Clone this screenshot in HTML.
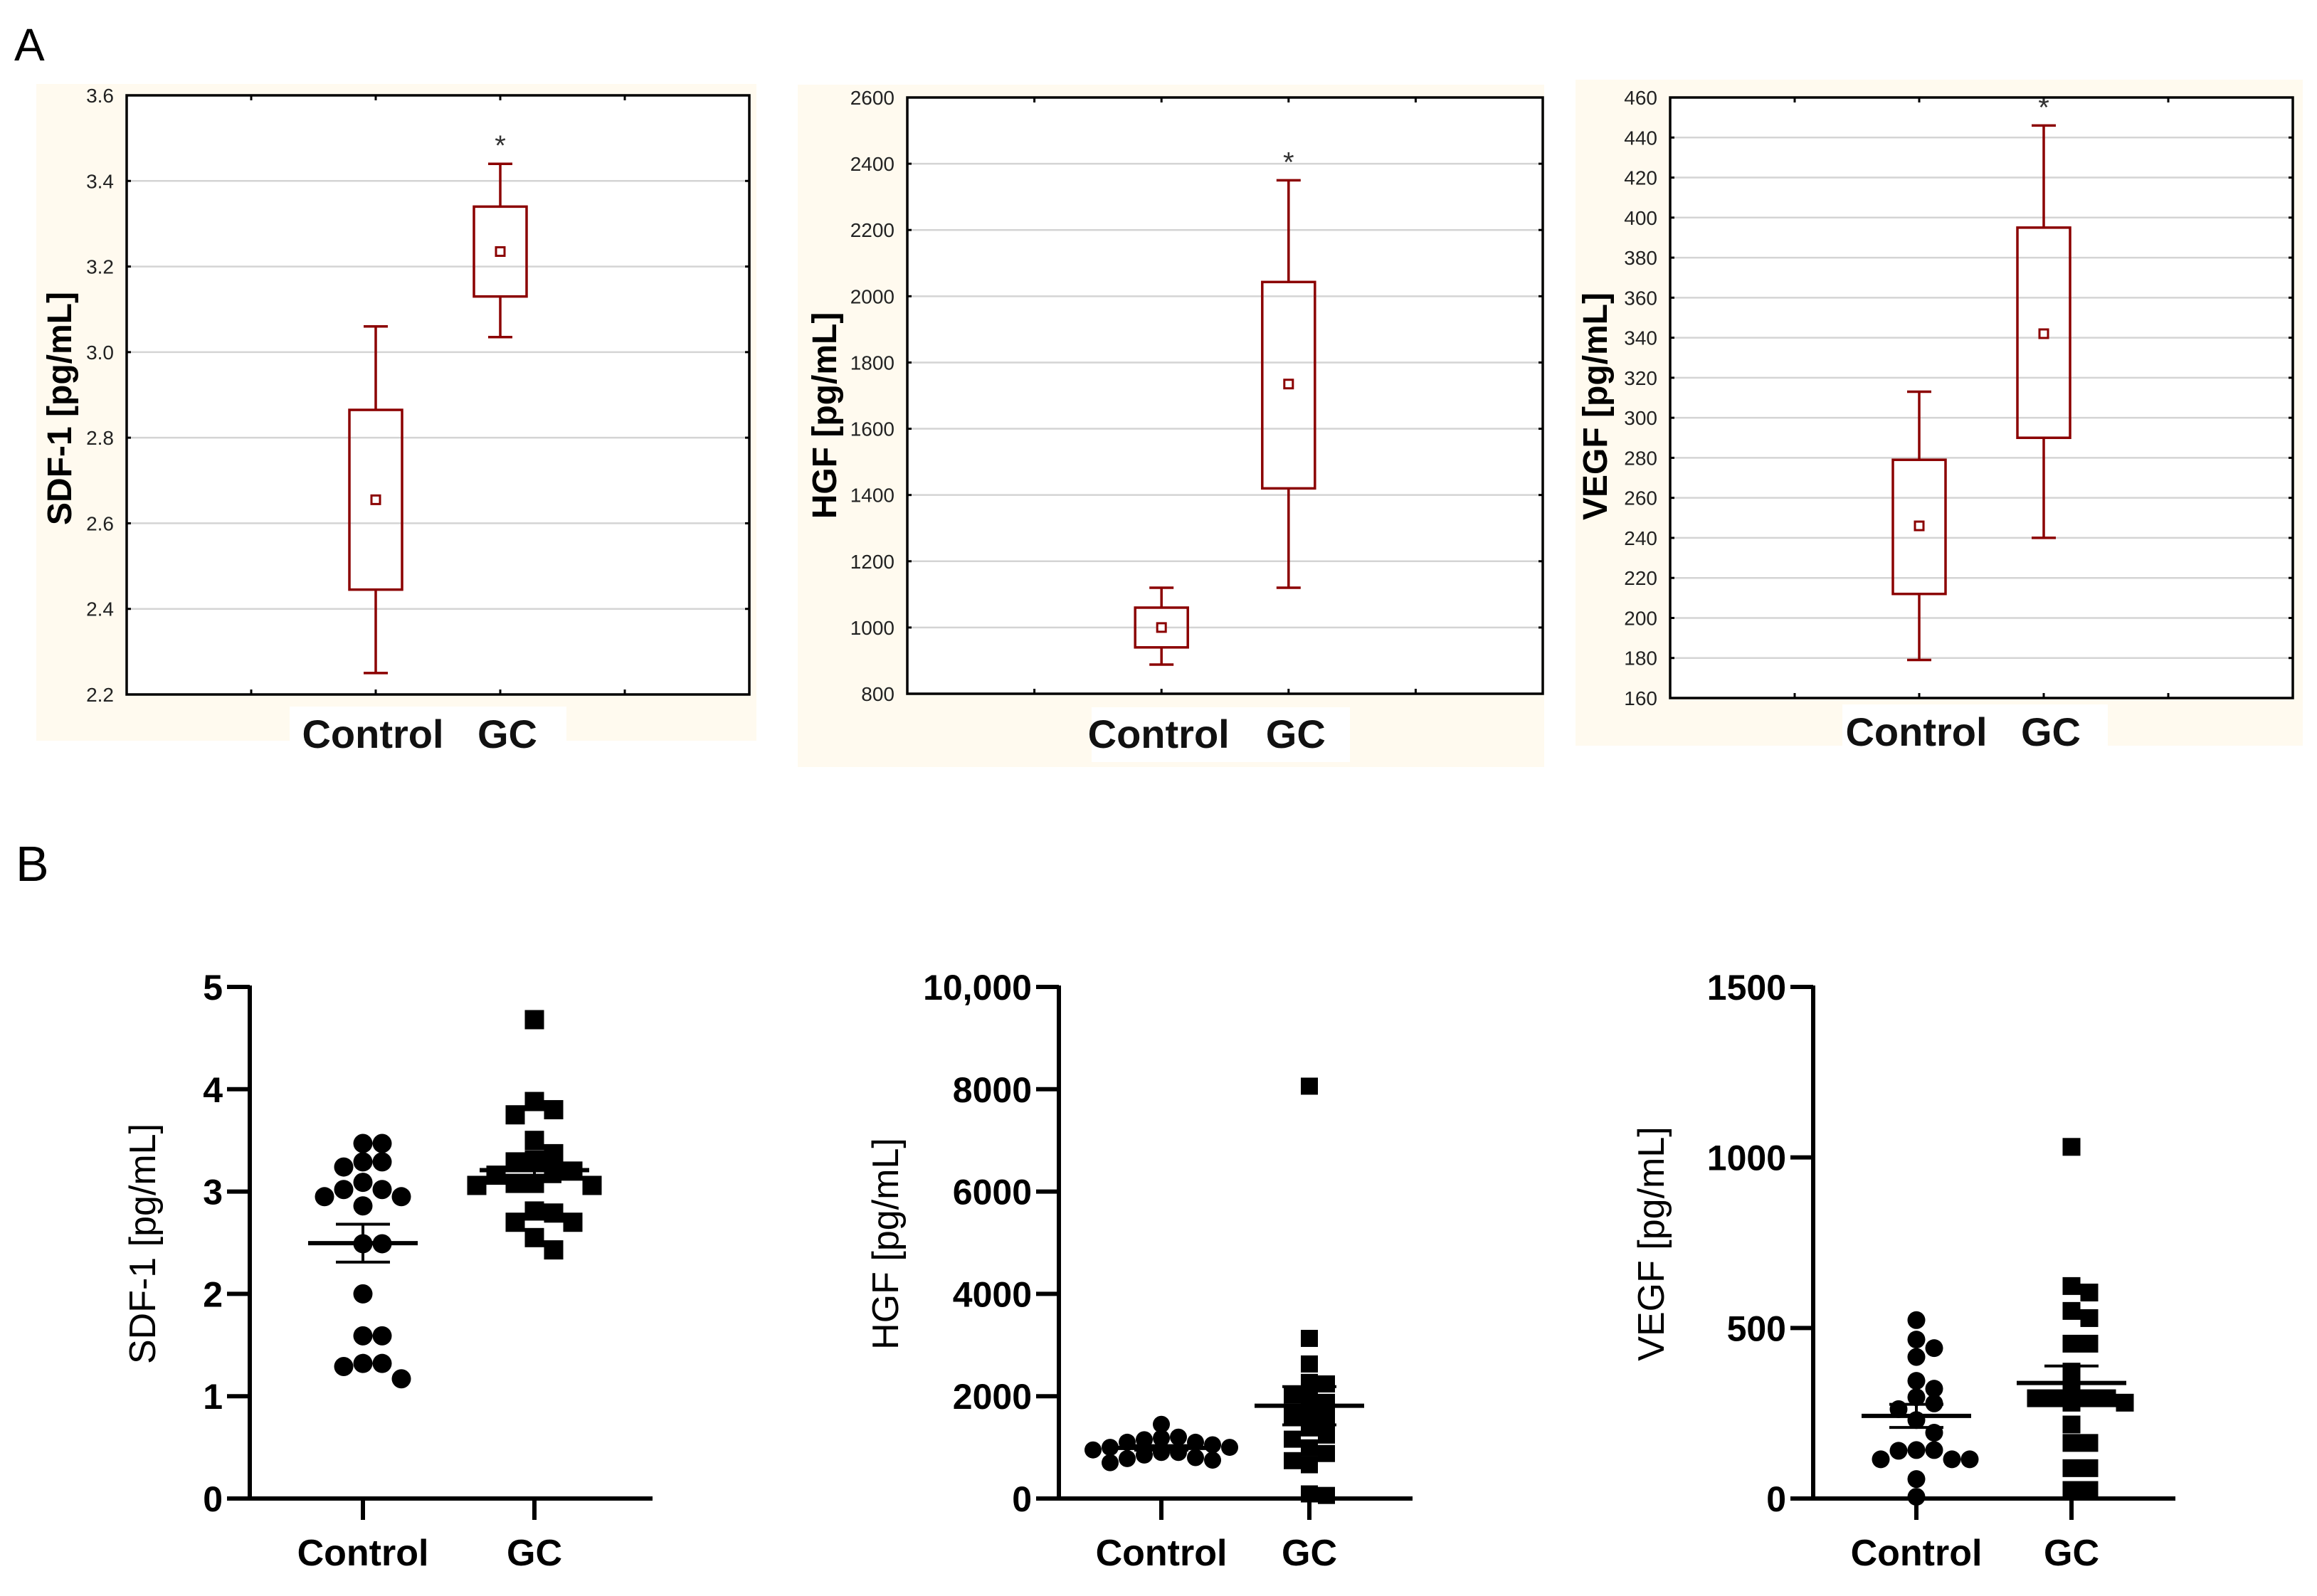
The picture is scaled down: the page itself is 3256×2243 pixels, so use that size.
<!DOCTYPE html>
<html><head><meta charset="utf-8"><style>
html,body{margin:0;padding:0;background:#fff;}
svg{display:block;}
text{font-family:"Liberation Sans",Arial,sans-serif;}
</style></head><body>
<svg id="fig" width="3256" height="2243" viewBox="0 0 3256 2243" xmlns="http://www.w3.org/2000/svg">
<text x="20" y="85" font-size="64" fill="#000">A</text>
<text x="22" y="1238" font-size="70" fill="#000">B</text>
</svg>
<script>
// ---------- Panel A data (box plots) ----------
const boxCategories = ["Control", "GC"];
const sdfBoxMean = [2.655, 3.235];
const sdfBoxLow = [2.445, 3.13];
const sdfBoxHigh = [2.865, 3.34];
const sdfWhiskLow = [2.25, 3.035];
const sdfWhiskHigh = [3.06, 3.44];
const sdfTicks = ["2.2","2.4","2.6","2.8","3.0","3.2","3.4","3.6"];

const hgfBoxMean = [1000, 1735];
const hgfBoxLow = [940, 1420];
const hgfBoxHigh = [1060, 2043];
const hgfWhiskLow = [888, 1120];
const hgfWhiskHigh = [1120, 2350];
const hgfTicks = ["800","1000","1200","1400","1600","1800","2000","2200","2400","2600"];

const vegfBoxMean = [246, 342];
const vegfBoxLow = [212, 290];
const vegfBoxHigh = [279, 395];
const vegfWhiskLow = [179, 240];
const vegfWhiskHigh = [313, 446];
const vegfTicks = ["160","180","200","220","240","260","280","300","320","340","360","380","400","420","440","460"];

// ---------- Panel B data (scatter) ----------
const sdfControl = [3.47,3.47,3.29,3.24,3.29,3.09,3.02,3.02,2.95,2.95,2.86,2.49,2.49,2.0,1.59,1.59,1.32,1.32,1.29,1.17];
const sdfGC = [4.68,3.88,3.8,3.75,3.5,3.37,3.31,3.29,3.2,3.2,3.16,3.08,3.08,3.06,3.06,2.81,2.79,2.7,2.7,2.55,2.43];
const sdfScatterTicks = ["0","1","2","3","4","5"];
const hgfControl = [1450,1200,1180,1150,1100,1100,1050,1000,1000,950,950,900,900,850,800,780,750,700];
const hgfGC = [8060,3130,2630,2270,2240,2020,1990,1880,1630,1660,1560,1380,1240,1160,990,880,740,660,60,90];
const hgfScatterTicks = ["0","2000","4000","6000","8000","10,000"];
const vegfControl = [523,466,441,415,345,322,297,279,262,230,193,142,142,140,115,115,115,57,5];
const vegfGC = [1031,623,604,550,529,454,454,372,324,294,294,294,294,281,281,217,163,163,89,89,25,25];
const vegfScatterTicks = ["0","500","1000","1500"];

const NS = "http://www.w3.org/2000/svg";
const svg = document.getElementById("fig");
function mk(tag, attrs, parent) {
  const e = document.createElementNS(NS, tag);
  for (const k in attrs) e.setAttribute(k, attrs[k]);
  (parent || svg).appendChild(e);
  return e;
}
const RED = "#8b0000";

function boxPanel(cfg) {
  const g = mk("g", {});
  
  
  const bg = mk("rect", {x:cfg.bg[0], y:cfg.bg[1], width:cfg.bg[2]-cfg.bg[0], height:cfg.bg[3]-cfg.bg[1], fill:"#fffaef"}, g);
  
  
  const lbg = mk("rect", {x:cfg.lab[0], y:cfg.lab[1], width:cfg.lab[2]-cfg.lab[0], height:cfg.lab[3]-cfg.lab[1], fill:"#fff"}, g);
  
  
  const [L, T, R, B] = cfg.frame;
  const plot = mk("rect", {x:L, y:T, width:R-L, height:B-T, fill:"#fff"}, g);
  
  
  const tmin = parseFloat(cfg.ticks[0]), tmax = parseFloat(cfg.ticks[cfg.ticks.length-1]);
  const y = v => B - (v - tmin) / (tmax - tmin) * (B - T);
  const xs = [L + (R-L)*0.4, L + (R-L)*0.6];
  cfg.ticks.forEach((t, i) => {
    const yy = y(parseFloat(t));
    if (i > 0 && i < cfg.ticks.length-1) {
      const gl = mk("line", {x1:L, x2:R, y1:yy, y2:yy, stroke:"#d4d4d4", "stroke-width":2.5}, g);
      
      
    }
    mk("line", {x1:L, x2:L+6, y1:yy, y2:yy, stroke:"#000", "stroke-width":3}, g);
    mk("line", {x1:R-6, x2:R, y1:yy, y2:yy, stroke:"#000", "stroke-width":3}, g);
    const tl = mk("text", {x:cfg.tickRight, y:yy+10, "font-size":28, fill:"#222", "text-anchor":"end"}, g);
    tl.textContent = t;
    
    
  });
  [0.2,0.4,0.6,0.8].forEach(f => {
    const xx = L + (R-L)*f;
    mk("line", {x1:xx, x2:xx, y1:B-7, y2:B, stroke:"#000", "stroke-width":3}, g);
    mk("line", {x1:xx, x2:xx, y1:T, y2:T+7, stroke:"#000", "stroke-width":3}, g);
  });
  for (let i = 0; i < 2; i++) {
    const cx = xs[i], bw = 74, cw = 34;
    const bx = mk("g", {}, g);
    
    
    const yl = y(cfg.low[i]), yh = y(cfg.high[i]), wl = y(cfg.wlow[i]), wh = y(cfg.whigh[i]), ym = y(cfg.mean[i]);
    mk("line", {x1:cx, x2:cx, y1:wh, y2:yh, stroke:RED, "stroke-width":3.5}, bx);
    mk("line", {x1:cx, x2:cx, y1:yl, y2:wl, stroke:RED, "stroke-width":3.5}, bx);
    mk("line", {x1:cx-cw/2, x2:cx+cw/2, y1:wh, y2:wh, stroke:RED, "stroke-width":3.5}, bx);
    mk("line", {x1:cx-cw/2, x2:cx+cw/2, y1:wl, y2:wl, stroke:RED, "stroke-width":3.5}, bx);
    mk("rect", {x:cx-bw/2, y:yh, width:bw, height:yl-yh, fill:"none", stroke:RED, "stroke-width":3.5}, bx);
    mk("rect", {x:cx-6, y:ym-6, width:12, height:12, fill:"#fff", stroke:RED, "stroke-width":3}, bx);
  }
  const st = mk("text", {x:xs[1], y:y(cfg.whigh[1]) - 12, "font-size":40, "text-anchor":"middle", fill:"#333"}, g);
  st.textContent = "*";
  
  
  const fr = mk("rect", {x:L, y:T, width:R-L, height:B-T, fill:"none", stroke:"#000", "stroke-width":3.5}, g);
  
  
  const yt = mk("text", {x:0, y:0, "font-size":48, "font-weight":"bold", "text-anchor":"middle", transform:`translate(${cfg.ylab[0]},${cfg.ylab[1]}) rotate(-90)`}, g);
  yt.textContent = cfg.title;
  
  
  const xl = mk("text", {x:xs[0]-4, y:cfg.xlabY, "font-size":56, "font-weight":"bold", "text-anchor":"middle", fill:"#111"}, g);
  xl.textContent = boxCategories[0];
  
  
  const xl2 = mk("text", {x:xs[1]+10, y:cfg.xlabY, "font-size":56, "font-weight":"bold", "text-anchor":"middle", fill:"#111"}, g);
  xl2.textContent = boxCategories[1];
  
  
}

boxPanel({name:"sdf1-boxplot", bg:[51,118,1063,1041], lab:[407,993,796,1075], frame:[178,134,1053,976], tickRight:160,
  ticks:sdfTicks, mean:sdfBoxMean, low:sdfBoxLow, high:sdfBoxHigh, wlow:sdfWhiskLow, whigh:sdfWhiskHigh,
  title:"SDF-1 [pg/mL]", ylab:[100,574], xlabY:1051});
boxPanel({name:"hgf-boxplot", bg:[1121,119,2170,1078], lab:[1534,994,1897,1071], frame:[1275,137,2168,975], tickRight:1257,
  ticks:hgfTicks, mean:hgfBoxMean, low:hgfBoxLow, high:hgfBoxHigh, wlow:hgfWhiskLow, whigh:hgfWhiskHigh,
  title:"HGF [pg/mL]", ylab:[1175,584], xlabY:1051});
boxPanel({name:"vegf-boxplot", bg:[2214,112,3236,1048], lab:[2589,990,2962,1060], frame:[2347,137,3222,981], tickRight:2329,
  ticks:vegfTicks, mean:vegfBoxMean, low:vegfBoxLow, high:vegfBoxHigh, wlow:vegfWhiskLow, whigh:vegfWhiskHigh,
  title:"VEGF [pg/mL]", ylab:[2258,571], xlabY:1048});

function swarm(vals, cx, y, size) {
  const placed = [];
  const order = vals.map((v,i)=>i).sort((a,b)=>vals[b]-vals[a]);
  const out = new Array(vals.length);
  order.forEach(i => {
    const yy = y(vals[i]);
    const cands = [0];
    for (let k = 1; k < 10; k++) { cands.push(k*size*0.5, -k*size*0.5); }
    for (const off of cands) {
      const ok = placed.every(p => Math.abs(p[1]-yy) >= size*0.8 || Math.abs(p[0]-(cx+off)) >= size*0.95);
      if (ok) { placed.push([cx+off, yy]); out[i] = [cx+off, yy]; break; }
    }
    if (!out[i]) { out[i] = [cx, yy]; placed.push(out[i]); }
  });
  return out;
}

function scatterPanel(cfg) {
  const g = mk("g", {});
  
  
  const ax = cfg.axisX, y0 = 2106, yTop = 1387;
  const tmax = parseFloat(cfg.ticks[cfg.ticks.length-1].replace(",",""));
  const y = v => y0 - v / tmax * (y0 - yTop);
  const xs = cfg.cats;
  const ya = mk("line", {x1:ax, x2:ax, y1:yTop-2, y2:y0, stroke:"#000", "stroke-width":6}, g);
  
  
  const xa = mk("line", {x1:ax-32, x2:cfg.axisEnd, y1:y0, y2:y0, stroke:"#000", "stroke-width":6}, g);
  
  
  cfg.ticks.forEach(t => {
    const yy = y(parseFloat(t.replace(",","")));
    mk("line", {x1:ax-32, x2:ax, y1:yy, y2:yy, stroke:"#000", "stroke-width":6}, g);
    const tl = mk("text", {x:ax-38, y:yy+18, "font-size":50, "font-weight":"bold", "text-anchor":"end"}, g);
    tl.textContent = t;
    
    
  });
  const labels = ["Control", "GC"];
  const series = [cfg.control, cfg.gc];
  for (let s = 0; s < 2; s++) {
    mk("line", {x1:xs[s], x2:xs[s], y1:y0, y2:y0+30, stroke:"#000", "stroke-width":6}, g);
    const xl = mk("text", {x:xs[s], y:2200, "font-size":52, "font-weight":"bold", "text-anchor":"middle"}, g);
    xl.textContent = labels[s];
    
    
    const sg = mk("g", {}, g);
    
    
    const pts = swarm(series[s], xs[s], y, cfg.size);
    pts.forEach(p => {
      let m;
      if (s === 0) m = mk("circle", {cx:p[0], cy:p[1], r:cfg.size/2, fill:"#000"}, sg);
      else m = mk("rect", {x:p[0]-cfg.size/2, y:p[1]-cfg.size/2, width:cfg.size, height:cfg.size, fill:"#000"}, sg);
      
      
    });
    const arr = series[s], n = arr.length;
    const mean = arr.reduce((a,b)=>a+b,0)/n;
    const sd = Math.sqrt(arr.reduce((a,b)=>a+(b-mean)*(b-mean),0)/(n-1));
    const sem = sd/Math.sqrt(n);
    const eg = mk("g", {}, sg);
    
    
    mk("line", {x1:xs[s]-77, x2:xs[s]+77, y1:y(mean), y2:y(mean), stroke:"#000", "stroke-width":6}, eg);
    mk("line", {x1:xs[s], x2:xs[s], y1:y(mean+sem), y2:y(mean-sem), stroke:"#000", "stroke-width":4}, eg);
    mk("line", {x1:xs[s]-38, x2:xs[s]+38, y1:y(mean+sem), y2:y(mean+sem), stroke:"#000", "stroke-width":4}, eg);
    mk("line", {x1:xs[s]-38, x2:xs[s]+38, y1:y(mean-sem), y2:y(mean-sem), stroke:"#000", "stroke-width":4}, eg);
  }
  const yt = mk("text", {x:0, y:0, "font-size":52, "text-anchor":"middle", transform:`translate(${cfg.ylabX},1748) rotate(-90)`}, g);
  yt.textContent = cfg.title;
  
  
}

scatterPanel({name:"sdf1-scatter", axisX:351, axisEnd:917, cats:[510,751], ticks:sdfScatterTicks,
  control:sdfControl, gc:sdfGC, size:27, title:"SDF-1 [pg/mL]", ylabX:218});
scatterPanel({name:"hgf-scatter", axisX:1488, axisEnd:1985, cats:[1632,1840], ticks:hgfScatterTicks,
  control:hgfControl, gc:hgfGC, size:24, title:"HGF [pg/mL]", ylabX:1262});
scatterPanel({name:"vegf-scatter", axisX:2548, axisEnd:3057, cats:[2693,2911], ticks:vegfScatterTicks,
  control:vegfControl, gc:vegfGC, size:25, title:"VEGF [pg/mL]", ylabX:2338});
</script>
</body></html>
